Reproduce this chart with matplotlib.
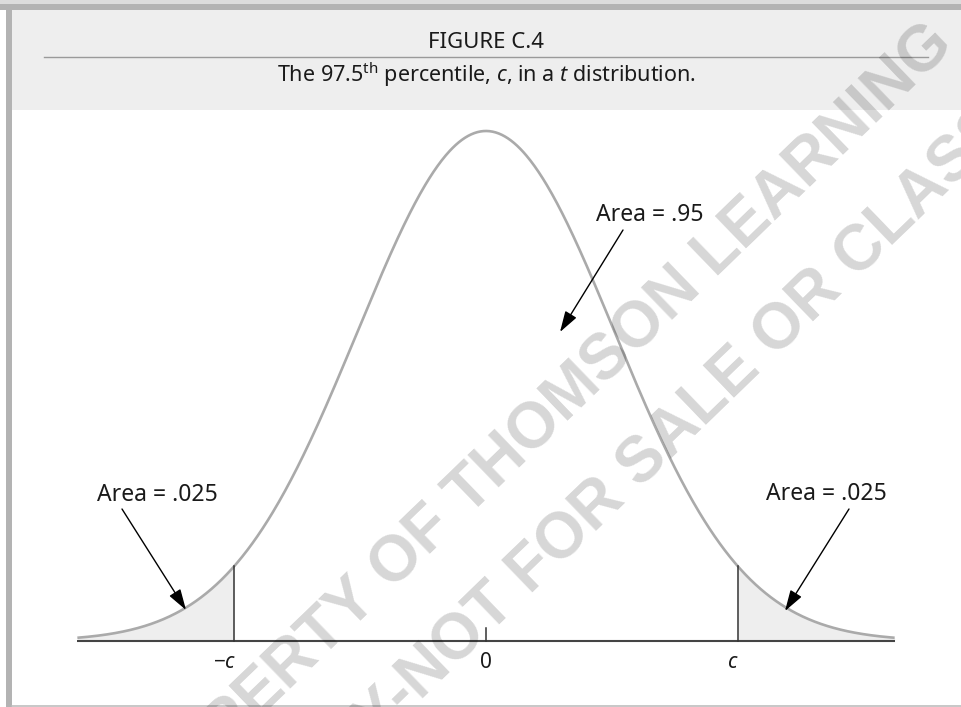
import math
import numpy as np
import matplotlib
matplotlib.use("Agg")
import matplotlib.pyplot as plt
from matplotlib.patches import Rectangle
from matplotlib.lines import Line2D

# ---- content -------------------------------------------------------------
title = "FIGURE C.4"
subtitle = r"The 97.5$^{\mathrm{th}}$ percentile, $c$, in a $t$ distribution."
crit = 1.96            # 97.5th percentile c
x_extent = 3.18        # curve drawn over [-x_extent, x_extent]
tick_values = [-crit, 0.0, crit]
tick_labels = [r"$-c$", "0", r"$c$"]
tail_label = "Area = .025"
center_label = "Area = .95"
watermark = ["PROPERTY OF THOMSON LEARNING", "ONLY-NOT FOR SALE OR CLASSROOM"]

FONT = "Noto Sans"
plt.rcParams["font.family"] = [FONT, "DejaVu Sans"]
plt.rcParams["mathtext.fontset"] = "custom"
plt.rcParams["mathtext.rm"] = FONT
plt.rcParams["mathtext.it"] = FONT + ":italic"
plt.rcParams["mathtext.default"] = "it"

W, H = 961, 707
fig = plt.figure(figsize=(W / 100, H / 100), dpi=100)
fig.patch.set_facecolor("white")


def fx(px):
    return px / W


def fy(py):
    return 1 - py / H


# ---- frame and header band -----------------------------------------------
fig.patches.append(Rectangle((0, fy(4)), 1, 4 / H, transform=fig.transFigure,
                             facecolor="#dcdcdc", edgecolor="none", zorder=0))
fig.patches.append(Rectangle((0, fy(10)), 1, 6 / H, transform=fig.transFigure,
                             facecolor="#b3b3b3", edgecolor="none", zorder=0))
fig.patches.append(Rectangle((fx(6), 0), 6 / W, fy(4), transform=fig.transFigure,
                             facecolor="#b3b3b3", edgecolor="none", zorder=0))
fig.patches.append(Rectangle((fx(12), fy(110)), 1 - fx(12), 100 / H,
                             transform=fig.transFigure,
                             facecolor="#eeeeee", edgecolor="none", zorder=0))
fig.lines.append(Line2D([fx(44), fx(928)], [fy(57), fy(57)],
                        transform=fig.transFigure, color="#9a9a9a", lw=1.0))
fig.lines.append(Line2D([fx(12), 1], [fy(706), fy(706)],
                        transform=fig.transFigure, color="#bdbdbd", lw=1.2))

fig.text(fx(486), fy(42), title, ha="center", va="center", fontsize=16,
         color="#1a1a1a")
fig.text(fx(486), fy(75), subtitle, ha="center", va="center", fontsize=15.5,
         color="#1a1a1a")

# ---- density plot ----------------------------------------------------------
x0_px, sx = 486, 128.5       # px of x=0, px per unit
base_px, sy = 641, 1278.4    # px of y=0, px per density unit
left_px, right_px, top_px, bot_px = 12, 961, 110, 705
ax = fig.add_axes([fx(left_px), fy(bot_px), (right_px - left_px) / W,
                   (bot_px - top_px) / H])
ax.set_xlim((left_px - x0_px) / sx, (right_px - x0_px) / sx)
ax.set_ylim(-(bot_px - base_px) / sy, (base_px - top_px) / sy)
ax.axis("off")
ax.patch.set_alpha(0)


def pdf(x):
    return np.exp(-0.5 * x ** 2) / math.sqrt(2 * math.pi)


xs = np.linspace(-x_extent, x_extent, 800)
ys = pdf(xs)

left = xs <= -crit
right = xs >= crit
ax.fill_between(xs[left], 0, ys[left], color="#eeeeee", lw=0, zorder=1)
ax.fill_between(xs[right], 0, ys[right], color="#eeeeee", lw=0, zorder=1)
ax.plot(xs, ys, color="#aaaaaa", lw=1.9, zorder=3, solid_capstyle="butt")

ax.plot([-x_extent, x_extent], [0, 0], color="#444444", lw=1.5, zorder=4,
        solid_capstyle="butt")
for v in (-crit, crit):
    ax.plot([v, v], [0, pdf(v)], color="#333333", lw=1.1, zorder=4)
ax.plot([0, 0], [0, 13 / sy], color="#333333", lw=1.1, zorder=4)

for v, lab in zip(tick_values, tick_labels):
    off = -9 / sx if v < 0 else (-5 / sx if v > 0 else 0)
    ax.text(v + off, -(662 - base_px) / sy, lab, ha="center", va="center",
            fontsize=15, color="#1a1a1a")

arrow = dict(arrowstyle="-|>,head_length=0.8,head_width=0.25",
             color="black", lw=1.0, shrinkA=0, shrinkB=0, mutation_scale=16)


def to_data(px, py):
    return ((px - x0_px) / sx, (base_px - py) / sy)


# tail annotations
ax.text(*to_data(157, 495), tail_label, ha="center", va="center",
        fontsize=16.5, color="#1a1a1a")
ax.annotate("", xy=to_data(186, 610), xytext=to_data(122, 509),
            arrowprops=arrow, zorder=5)
ax.text(*to_data(826, 494), tail_label, ha="center", va="center",
        fontsize=16.5, color="#1a1a1a")
ax.annotate("", xy=to_data(785, 611), xytext=to_data(849, 509),
            arrowprops=arrow, zorder=5)
ax.text(*to_data(596, 215), center_label, ha="left", va="center",
        fontsize=16.5, color="#1a1a1a")
ax.annotate("", xy=to_data(560, 332), xytext=to_data(623, 230),
            arrowprops=arrow, zorder=5)

# ---- diagonal watermark ----------------------------------------------------
fig.text(fx(530), fy(435), watermark[0], ha="center", va="center",
         rotation=44, rotation_mode="anchor", fontsize=46, fontweight="bold",
         family="Liberation Sans", color="black", alpha=0.16, zorder=10)
fig.text(fx(708), fy(400), watermark[1], ha="center", va="center",
         rotation=44, rotation_mode="anchor", fontsize=46, fontweight="bold",
         family="Liberation Sans", color="black", alpha=0.16, zorder=10)

fig.savefig("out.png", dpi=100)
